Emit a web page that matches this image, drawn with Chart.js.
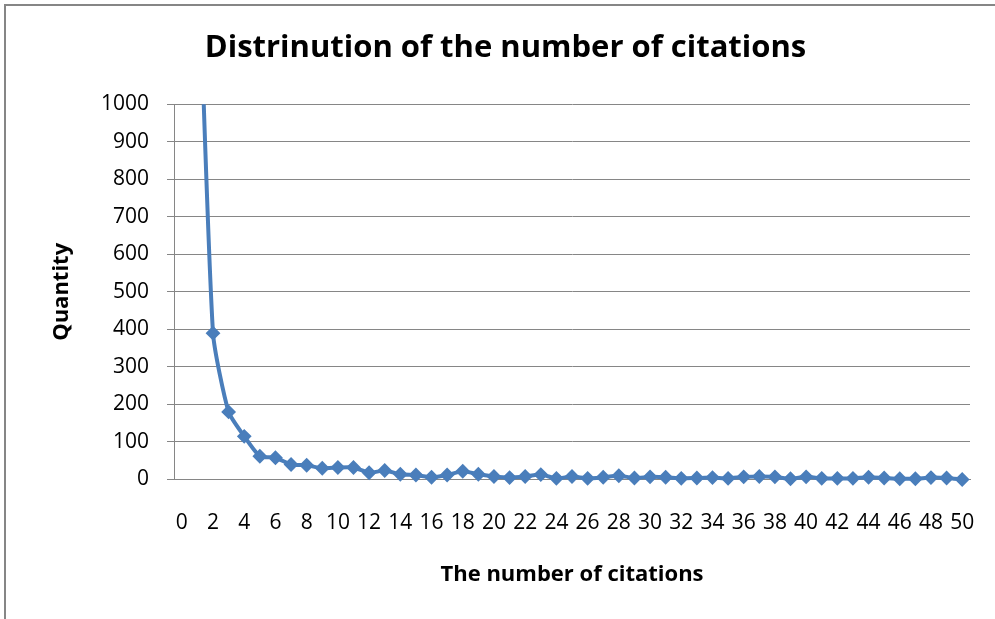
<!DOCTYPE html>
<html>
<head>
<meta charset="utf-8">
<script src="https://cdn.jsdelivr.net/npm/chart.js@4.4.1/dist/chart.umd.min.js"></script>
<style>
  html, body { margin: 0; padding: 0; background: #fff; overflow: hidden; }
  #wrap { position: relative; width: 995px; height: 619px; overflow: hidden; }
  #frame { position: absolute; left: 4px; top: 4px; width: 1100px; height: 700px;
           border: 2px solid #868686; box-sizing: border-box; }
  #c { position: absolute; left: 0; top: 0; }
</style>
</head>
<body>
<div id="wrap">
  <div id="frame"></div>
  <canvas id="c" width="995" height="619"></canvas>
</div>
<script>
// Number of citations per paper (category axis)
const citations = [
  '0', '1', '2', '3', '4', '5', '6', '7', '8', '9',
  '10', '11', '12', '13', '14', '15', '16', '17', '18', '19',
  '20', '21', '22', '23', '24', '25', '26', '27', '28', '29',
  '30', '31', '32', '33', '34', '35', '36', '37', '38', '39',
  '40', '41', '42', '43', '44', '45', '46', '47', '48', '49', '50'
];

// How many papers received that many citations
const quantity = [
  null, 1500, 390, 180, 115, 62, 58, 40, 38, 30,
  32, 32, 18, 24, 14, 12, 6, 12, 22, 14,
  8, 5, 8, 13, 3, 8, 3, 6, 10, 4,
  7, 6, 3, 4, 5, 3, 7, 8, 7, 2,
  7, 3, 3, 3, 6, 4, 2, 2, 5, 4, 0
];

// Value axis range and step
const yMin = 0;
const yMax = 1000;
const yStep = 100;

const titleText = 'Distrinution of the number of citations';
const xTitle = 'The number of citations';
const yTitle = 'Quantity';

const blue = '#4a7ebb';
const gridGray = '#868686';
const fontFamily = "'Open Sans', Lato, sans-serif";

new Chart(document.getElementById('c'), {
  type: 'line',
  data: {
    labels: citations,
    datasets: [{
      data: quantity,
      borderColor: blue,
      backgroundColor: blue,
      borderWidth: 4,
      tension: 0.2,
      pointStyle: 'rectRot',
      pointRadius: 6,
      pointBorderWidth: 2,
      pointBackgroundColor: blue,
      pointBorderColor: blue,
      clip: { left: false, top: 0, right: false, bottom: false }
    }]
  },
  options: {
    responsive: false,
    animation: false,
    layout: { padding: { left: 41, right: 25, top: 8, bottom: 0 } },
    plugins: {
      legend: { display: false },
      tooltip: { enabled: false },
      title: {
        display: true,
        text: titleText,
        color: '#000',
        font: { family: fontFamily, size: 31, weight: 'bold' },
        padding: { top: 22, bottom: 37 }
      }
    },
    scales: {
      x: {
        type: 'category',
        offset: true,
        // invisible tick marks keep the labels clear of the axis line
        grid: { display: true, drawOnChartArea: false, color: 'rgba(0,0,0,0)', drawTicks: true, tickLength: 27 },
        border: { display: true, color: gridGray, width: 1 },
        ticks: {
          autoSkip: false,
          maxRotation: 0,
          minRotation: 0,
          padding: 4,
          color: '#000',
          font: { family: fontFamily, size: 21 },
          callback: (v, i) => (i % 2 === 0 ? citations[i] : '')
        },
        title: {
          display: true,
          text: xTitle,
          color: '#000',
          font: { family: fontFamily, size: 22, weight: 'bold' },
          padding: { top: 0, bottom: 31 }
        },
        afterFit: (s) => { s.height = 139.5; }
      },
      y: {
        min: yMin,
        max: yMax,
        grid: { color: gridGray, lineWidth: 1, tickLength: 7 },
        border: { display: true, color: gridGray, width: 1 },
        ticks: {
          stepSize: yStep,
          padding: 18,
          color: '#000',
          font: { family: fontFamily, size: 21 },
          callback: (v) => String(v)
        },
        title: {
          display: true,
          text: yTitle,
          color: '#000',
          font: { family: fontFamily, size: 22, weight: 'bold' },
          padding: { top: 8, bottom: 0 }
        },
        afterFit: (s) => { s.width = 133; }
      }
    }
  }
});
</script>
</body>
</html>
